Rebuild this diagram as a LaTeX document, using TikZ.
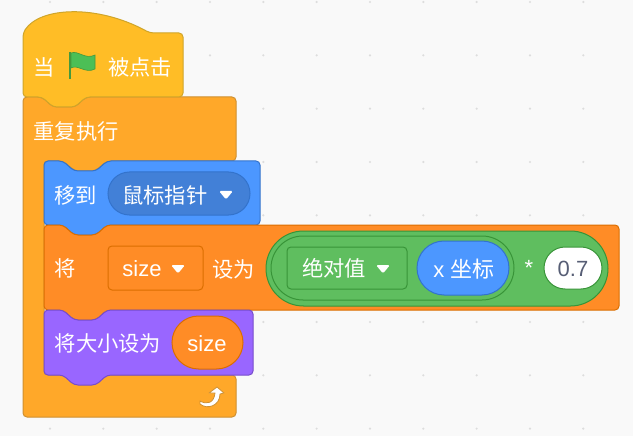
\documentclass[tikz,border=0pt]{standalone}
\usepackage{fontspec}
\setmainfont{Liberation Sans}
\newfontfamily\cjk{Noto Sans CJK SC}
\usetikzlibrary{shapes.misc,positioning}
\definecolor{canvas}{HTML}{F9F9F9}
\definecolor{griddot}{HTML}{DDDDDD}
\definecolor{eventfill}{HTML}{FFBD26}
\definecolor{eventline}{HTML}{CFA52A}
\definecolor{controlfill}{HTML}{FFA829}
\definecolor{controlline}{HTML}{CF9030}
\definecolor{motionfill}{HTML}{4C97FF}
\definecolor{motionline}{HTML}{3373CC}
\definecolor{motiondark}{HTML}{4280D7}
\definecolor{varfill}{HTML}{FF8C26}
\definecolor{varline}{HTML}{DB6E00}
\definecolor{opfill}{HTML}{5FBE5F}
\definecolor{opline}{HTML}{389438}
\definecolor{looksfill}{HTML}{9966FF}
\definecolor{looksline}{HTML}{774DCB}
\definecolor{numtext}{HTML}{575E75}
\definecolor{flagfill}{HTML}{4CBF56}
\definecolor{flagline}{HTML}{45993D}
% block with a notch on top and a bump below
\newcommand{\stackblock}[6]{%
  \draw[block, fill=#5, draw=#6] (#1,#2) -- (#1+19,#2) -- (#1+30,#2+10) -- (#1+52,#2+10) -- (#1+63,#2) -- (#3,#2) -- (#3,#4)
    -- (#1+63,#4) -- (#1+52,#4+10) -- (#1+30,#4+10) -- (#1+19,#4) -- (#1,#4) -- cycle;}
\newcommand{\dropmark}[2]{%
  \fill[white, rounded corners=1.5pt] (#1-7,#2-4) -- (#1+7,#2-4) -- (#1,#2+4.5) -- cycle;}

\begin{document}
\begin{tikzpicture}[x=1pt, y=-1pt,
  block/.style={line width=1pt, rounded corners=4pt},
  pill/.style={rounded rectangle, line width=1pt, inner sep=0pt},
  menubox/.style={rectangle, rounded corners=4pt, line width=1pt, inner sep=0pt},
  zh/.style={text=white, inner sep=0pt, font=\cjk\fontsize{21.3}{21.3}\selectfont},
  en/.style={text=white, inner sep=0pt, font=\fontsize{22}{22}\selectfont}
]
  \useasboundingbox (0,0) rectangle (633,436);
  \fill[canvas] (0,0) rectangle (633,436);
  \foreach \i in {0,...,10} \foreach \j in {0,...,8}
    \fill[griddot] (50+53.33*\i,2+53.33*\j) circle (1.2pt);
  % repeat block
  \draw[block, fill=controlfill, draw=controlline] (23,97) -- (42,97) -- (53,107) -- (75,107) -- (86,97) -- (236,97) -- (236,161)
    -- (107,161) -- (95,171) -- (75,171) -- (63,161) -- (44,161) -- (44,375) -- (236,375) -- (236,417) -- (23,417) -- cycle;
  % hat block
  \draw[block, fill=eventfill, draw=eventline] (23,33) .. controls (40,7) and (97,4) .. (150,33) -- (183,33) -- (183,97)
    -- (86,97) -- (75,107) -- (53,107) -- (42,97) -- (23,97) -- cycle;
  \node[zh] (whenlabel) at (44,67.5) {当};
  \fill[flagfill, draw=flagline, line width=0.6pt] (71,53) .. controls (78,50) and (85,60) .. (95,55) -- (95,69) .. controls (85,74) and (78,64) .. (71,68) -- cycle;
  \draw[flagline, line width=2.5pt] (70,52) -- (70,79);
  \node[zh] (clicklabel) at (140,67.5) {被点击};
  \node[zh] (repeatlabel) at (76,131) {重复执行};
  % loop arrow
  \draw[fill=white, draw=controlline, line width=0.8pt, line join=round] (200,401) .. controls (207,405) and (214,403) .. (215,393) -- (209,393) -- (217,387) -- (224,393) -- (220,394)
    .. controls (220,406) and (207,410) .. (200,404) -- cycle;
  % move block
  \stackblock{44}{161}{260}{225}{motionfill}{motionline}
  \node[zh] (movelabel) at (76,195.5) {移到};
  \node[pill, fill=motiondark, draw=motionline, minimum width=142pt, minimum height=43pt] (mousepill) at (179,193.5) {};
  \node[zh] (mouselabel) at (165,195.5) {鼠标指针};
  \dropmark{226}{195}
  % set variable block
  \stackblock{44}{225}{619}{310}{varfill}{varline}
  \node[zh] (setlabel) at (65,268.5) {将};
  \node[menubox, fill=varfill, draw=varline, minimum width=95pt, minimum height=44pt] (sizemenu) at (155.5,268) {};
  \node[en] (sizelabel) at (142,269) {size};
  \dropmark{178}{269}
  \node[zh] (tolabel) at (233.5,269.5) {设为};
  \node[pill, fill=opfill, draw=opline, minimum width=342pt, minimum height=75pt] (timespill) at (437,268.5) {};
  \node[pill, fill=opfill, draw=opline, minimum width=243pt, minimum height=64pt] (abspill) at (392.5,268) {};
  \node[menubox, fill=opfill, draw=opline, minimum width=120pt, minimum height=42pt] (absmenu) at (347,268) {};
  \node[zh] (abslabel) at (334,268.5) {绝对值};
  \dropmark{383}{269}
  \node[pill, fill=motionfill, draw=motionline, minimum width=92pt, minimum height=54pt] (xpill) at (463,268) {};
  \node[en] (xlabel) at (464,269) {x {\cjk 坐标}};
  \node[en] (timeslabel) at (529,268) {*};
  \node[pill, fill=white, draw=opline, minimum width=58pt, minimum height=42pt] (numpill) at (573,268) {};
  \node[en, text=numtext] (numlabel) at (573,268.5) {0.7};
  % set size block
  \stackblock{44}{310}{253}{375}{looksfill}{looksline}
  \node[zh] (sizesetlabel) at (108,343.5) {将大小设为};
  \node[pill, fill=varfill, draw=varline, minimum width=71pt, minimum height=53pt] (sizepill) at (207.5,342.5) {};
  \node[en] (sizevalue) at (207,344) {size};
\end{tikzpicture}
\end{document}
